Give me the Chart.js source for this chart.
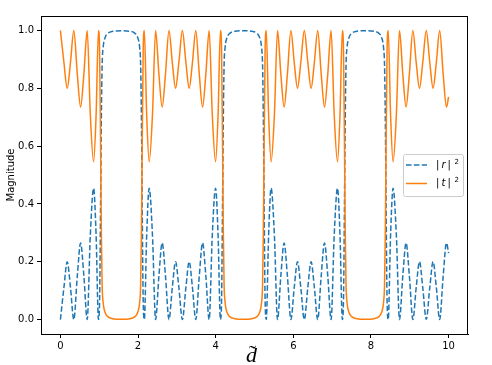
<!DOCTYPE html>
<html>
<head>
<meta charset="utf-8">
<script src="https://cdn.jsdelivr.net/npm/chart.js@4/dist/chart.umd.min.js"></script>
<style>
html,body{margin:0;padding:0;background:#fff;}
canvas{display:block;}
</style>
</head>
<body>
<canvas id="c" width="492" height="365"></canvas>
<script>
// d-tilde values (x)
const dValues = [
  0.000,0.090,0.175,0.260,0.345,0.435,0.520,0.605,0.690,0.770,0.855,0.920,0.980,1.010,1.035,1.055,1.075,1.100,1.150,1.220,1.350,1.571,
  1.792,1.922,1.992,2.042,2.067,2.087,2.107,2.132,2.162,2.222,2.287,2.372,2.452,2.537,2.622,2.707,2.797,2.882,2.967,3.052,3.142,3.232,3.317,3.402,3.487,3.577,3.662,3.747,3.832,3.912,3.997,4.062,4.122,4.152,4.177,4.197,4.217,4.242,4.292,4.362,4.492,4.713,
  4.933,5.063,5.133,5.183,5.208,5.228,5.248,5.273,5.303,5.363,5.428,5.513,5.593,5.678,5.763,5.848,5.938,6.023,6.108,6.193,6.283,6.373,6.458,6.543,6.628,6.718,6.803,6.888,6.973,7.053,7.138,7.203,7.263,7.293,7.318,7.338,7.358,7.383,7.433,7.503,7.633,7.854,
  8.075,8.205,8.275,8.325,8.350,8.370,8.390,8.415,8.445,8.505,8.570,8.655,8.735,8.820,8.905,8.990,9.080,9.165,9.250,9.335,9.425,9.515,9.600,9.685,9.770,9.860,9.945,10.000
];
// |t|^2 values
const tValues = [
  1.0,0.89,0.80,0.89,1.0,0.85,0.735,0.85,1.0,0.71,0.546,0.71,1.0,0.93,0.6,0.3,0.12,0.06,0.025,0.01,0.003,0.001,
  0.003,0.01,0.025,0.06,0.12,0.3,0.6,0.93,1.0,0.71,0.546,0.71,1.0,0.85,0.735,0.85,1.0,0.89,0.80,0.89,1.0,0.89,0.80,0.89,1.0,0.85,0.735,0.85,1.0,0.71,0.546,0.71,1.0,0.93,0.6,0.3,0.12,0.06,0.025,0.01,0.003,0.001,
  0.003,0.01,0.025,0.06,0.12,0.3,0.6,0.93,1.0,0.71,0.546,0.71,1.0,0.85,0.735,0.85,1.0,0.89,0.80,0.89,1.0,0.89,0.80,0.89,1.0,0.85,0.735,0.85,1.0,0.71,0.546,0.71,1.0,0.93,0.6,0.3,0.12,0.06,0.025,0.01,0.003,0.001,
  0.003,0.01,0.025,0.06,0.12,0.3,0.6,0.93,1.0,0.71,0.546,0.71,1.0,0.85,0.735,0.85,1.0,0.89,0.80,0.89,1.0,0.89,0.80,0.89,1.0,0.85,0.735,0.77
];
// |r|^2 values
const rValues = [
  0.0,0.11,0.20,0.11,0.0,0.15,0.265,0.15,0.0,0.29,0.454,0.29,0.0,0.07,0.4,0.7,0.88,0.94,0.975,0.99,0.997,0.999,
  0.997,0.99,0.975,0.94,0.88,0.7,0.4,0.07,0.0,0.29,0.454,0.29,0.0,0.15,0.265,0.15,0.0,0.11,0.20,0.11,0.0,0.11,0.20,0.11,0.0,0.15,0.265,0.15,0.0,0.29,0.454,0.29,0.0,0.07,0.4,0.7,0.88,0.94,0.975,0.99,0.997,0.999,
  0.997,0.99,0.975,0.94,0.88,0.7,0.4,0.07,0.0,0.29,0.454,0.29,0.0,0.15,0.265,0.15,0.0,0.11,0.20,0.11,0.0,0.11,0.20,0.11,0.0,0.15,0.265,0.15,0.0,0.29,0.454,0.29,0.0,0.07,0.4,0.7,0.88,0.94,0.975,0.99,0.997,0.999,
  0.997,0.99,0.975,0.94,0.88,0.7,0.4,0.07,0.0,0.29,0.454,0.29,0.0,0.15,0.265,0.15,0.0,0.11,0.20,0.11,0.0,0.11,0.20,0.11,0.0,0.15,0.265,0.23
];
const xTicks = [0, 2, 4, 6, 8, 10];
const yTicks = [0.0, 0.2, 0.4, 0.6, 0.8, 1.0];
const seriesLabels = ['|r|²', '|t|²'];
const xTitle = 'd';
const yTitle = 'Magnitude';

const BLUE = '#1f77b4', ORANGE = '#ff7f0e';
const DASH = [5.5, 2.4];

const decor = {
  id: 'decor',
  afterDraw(chart) {
    const ctx = chart.ctx, a = chart.chartArea;
    ctx.save();
    // frame
    ctx.strokeStyle = '#000'; ctx.lineWidth = 1;
    ctx.strokeRect(Math.round(a.left) + 0.5, Math.round(a.top) + 0.5, Math.round(a.right - a.left) - 1, Math.round(a.bottom - a.top));
    // y title
    ctx.fillStyle = '#000';
    ctx.font = '10px "DejaVu Sans"';
    ctx.textAlign = 'center'; ctx.textBaseline = 'middle';
    ctx.translate(11, (a.top + a.bottom) / 2);
    ctx.rotate(-Math.PI / 2);
    ctx.fillText(yTitle, 0, 0);
    ctx.setTransform(1, 0, 0, 1, 0, 0);
    // x title: d with tilde
    const cx = (a.left + a.right) / 2 - 3;
    ctx.font = 'italic 22px "Liberation Serif"';
    ctx.textAlign = 'center'; ctx.textBaseline = 'alphabetic';
    ctx.fillText(xTitle, cx, 362);
    ctx.font = '22px "Liberation Serif"';
    ctx.fillText('\u02DC', cx + 1, 360);
    // legend
    const lx = 403, ly = 154, lw = 60, lh = 42;
    ctx.beginPath();
    ctx.roundRect(lx + 0.5, ly + 0.5, lw, lh, 2);
    ctx.fillStyle = 'rgba(255,255,255,0.8)';
    ctx.fill();
    ctx.strokeStyle = '#cccccc'; ctx.lineWidth = 1;
    ctx.stroke();
    const rows = [{y: 165, c: BLUE, dash: DASH, s: 'r'}, {y: 183.5, c: ORANGE, dash: [], s: 't'}];
    rows.forEach(r => {
      ctx.beginPath();
      ctx.setLineDash(r.dash);
      ctx.strokeStyle = r.c; ctx.lineWidth = 1.5;
      ctx.moveTo(406, r.y); ctx.lineTo(427, r.y); ctx.stroke();
      ctx.setLineDash([]);
      ctx.fillStyle = '#000';
      ctx.textAlign = 'left'; ctx.textBaseline = 'middle';
      ctx.font = '10px "DejaVu Sans"';
      ctx.fillText('|', 436, r.y);
      ctx.font = 'italic 10px "DejaVu Sans"';
      ctx.fillText(r.s, 441.5, r.y);
      ctx.font = '10px "DejaVu Sans"';
      ctx.fillText('|', 447.5, r.y);
      ctx.font = '7px "DejaVu Sans"';
      ctx.fillText('2', 454.5, r.y - 3);
    });
    ctx.restore();
  }
};

new Chart(document.getElementById('c'), {
  type: 'line',
  data: {
    datasets: [
      {
        label: seriesLabels[0],
        data: dValues.map((d, i) => ({x: d, y: rValues[i]})),
        borderColor: BLUE, borderWidth: 1.5, borderDash: DASH,
        pointRadius: 0, fill: false, cubicInterpolationMode: 'monotone', order: 2
      },
      {
        label: seriesLabels[1],
        data: dValues.map((d, i) => ({x: d, y: tValues[i]})),
        borderColor: ORANGE, borderWidth: 1.5,
        pointRadius: 0, fill: false, cubicInterpolationMode: 'monotone', order: 1
      }
    ]
  },
  options: {
    responsive: false, animation: false, devicePixelRatio: 1,
    layout: {padding: {top: 16, right: 24, left: 0, bottom: 0}},
    plugins: {legend: {display: false}, tooltip: {enabled: false}},
    scales: {
      x: {
        type: 'linear', min: -0.5, max: 10.5,
        afterBuildTicks: s => { s.ticks = xTicks.map(v => ({value: v})); },
        afterFit: s => { s.height = 31; },
        grid: {drawOnChartArea: false, drawTicks: true, tickLength: 4, color: '#000'},
        border: {display: true, color: '#000'},
        ticks: {color: '#000', font: {family: 'DejaVu Sans', size: 10}, padding: 2, maxRotation: 0, callback: v => String(v)}
      },
      y: {
        type: 'linear', min: -0.05, max: 1.05,
        afterBuildTicks: s => { s.ticks = yTicks.map(v => ({value: v})); },
        afterFit: s => { s.width = 41; },
        grid: {drawOnChartArea: false, drawTicks: true, tickLength: 4, color: '#000'},
        border: {display: true, color: '#000'},
        ticks: {color: '#000', font: {family: 'DejaVu Sans', size: 10}, padding: 3, callback: v => v.toFixed(1)}
      }
    }
  },
  plugins: [decor]
});
</script>
</body>
</html>
